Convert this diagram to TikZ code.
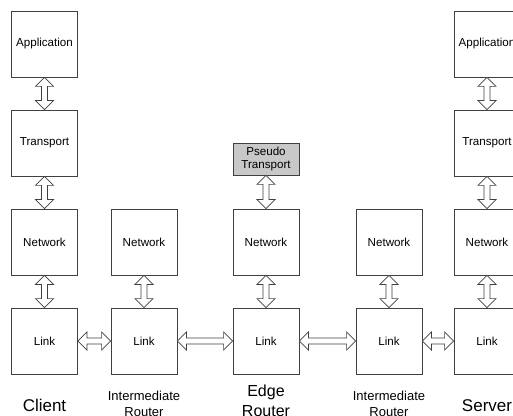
\documentclass[tikz,border=0pt]{standalone}
\usepackage{fontspec}
\setmainfont{Liberation Sans}
\usetikzlibrary{calc}
\definecolor{edge}{HTML}{404040}
\definecolor{pseudo}{HTML}{C8C8C8}
\tikzset{
  layer/.style={draw=edge, line width=0.8pt, fill=white, minimum width=66pt, minimum height=66pt,
    inner sep=0pt, font=\fontsize{11.6}{13}\selectfont, align=center},
  pseudobox/.style={layer, fill=pseudo, minimum height=32pt},
  biglabel/.style={font=\fontsize{17}{20}\selectfont, anchor=base},
  edgelabel/.style={font=\fontsize{16}{20}\selectfont, anchor=base, align=center},
  smalllabel/.style={font=\fontsize{13}{16}\selectfont, anchor=base, align=center},
  vblk/.style={draw=edge, line width=0.7pt, fill=white, line join=miter,
    to path={-- ++(9,-9) -- ++(-6,0) -- ($(\tikztotarget)+(3,9)$) -- ++(6,0) -- (\tikztotarget)
      -- ++(-9,9) -- ++(6,0) -- ($(\tikztostart)+(-3,-9)$) -- ++(-6,0) -- cycle}},
  hblk/.style={draw=edge, line width=0.7pt, fill=white, line join=miter,
    to path={-- ++(9,9) -- ++(0,-6) -- ($(\tikztotarget)+(-9,3)$) -- ++(0,6) -- (\tikztotarget)
      -- ++(-9,-9) -- ++(0,6) -- ($(\tikztostart)+(9,-3)$) -- ++(0,-6) -- cycle}}
}
\begin{document}
\begin{tikzpicture}[x=1pt,y=1pt]
\useasboundingbox (0,0) rectangle (513,415);
\clip (0,0) rectangle (513,415);
% client
\node[layer] (capp) at (44.5,371) {Application};
\node[layer] (ctr) at (44.5,272) {Transport};
\node[layer] (cnet) at (44.5,173) {Network};
\node[layer] (clink) at (44.5,74) {Link};
% intermediate 1
\node[layer] (i1net) at (144,173) {Network};
\node[layer] (i1link) at (144,74) {Link};
% edge
\node[pseudobox] (pst) at (266,256) {Pseudo\\Transport};
\node[layer] (enet) at (266,173) {Network};
\node[layer] (elink) at (266,74) {Link};
% intermediate 2
\node[layer] (i2net) at (389,173) {Network};
\node[layer] (i2link) at (389,74) {Link};
% server
\node[layer] (sapp) at (487,371) {Application};
\node[layer] (str) at (487,272) {Transport};
\node[layer] (snet) at (487,173) {Network};
\node[layer] (slink) at (487,74) {Link};
% vertical arrows
\draw[vblk] (capp.south) to (ctr.north);
\draw[vblk] (ctr.south) to (cnet.north);
\draw[vblk] (cnet.south) to (clink.north);
\draw[vblk] (i1net.south) to (i1link.north);
\draw[vblk] (pst.south) to (enet.north);
\draw[vblk] (enet.south) to (elink.north);
\draw[vblk] (i2net.south) to (i2link.north);
\draw[vblk] (sapp.south) to (str.north);
\draw[vblk] (str.south) to (snet.north);
\draw[vblk] (snet.south) to (slink.north);
% horizontal arrows
\draw[hblk] (clink.east) to (i1link.west);
\draw[hblk] (i1link.east) to (elink.west);
\draw[hblk] (elink.east) to (i2link.west);
\draw[hblk] (i2link.east) to (slink.west);
% labels
\node[biglabel] (lclient) at (44.5,4) {Client};
\node[smalllabel] (li1) at (144,-1) {Intermediate\\Router};
\node[edgelabel] (ledge) at (266,-1) {Edge\\Router};
\node[smalllabel] (li2) at (389,-1) {Intermediate\\Router};
\node[biglabel] (lserver) at (487,4) {Server};
\end{tikzpicture}
\end{document}
